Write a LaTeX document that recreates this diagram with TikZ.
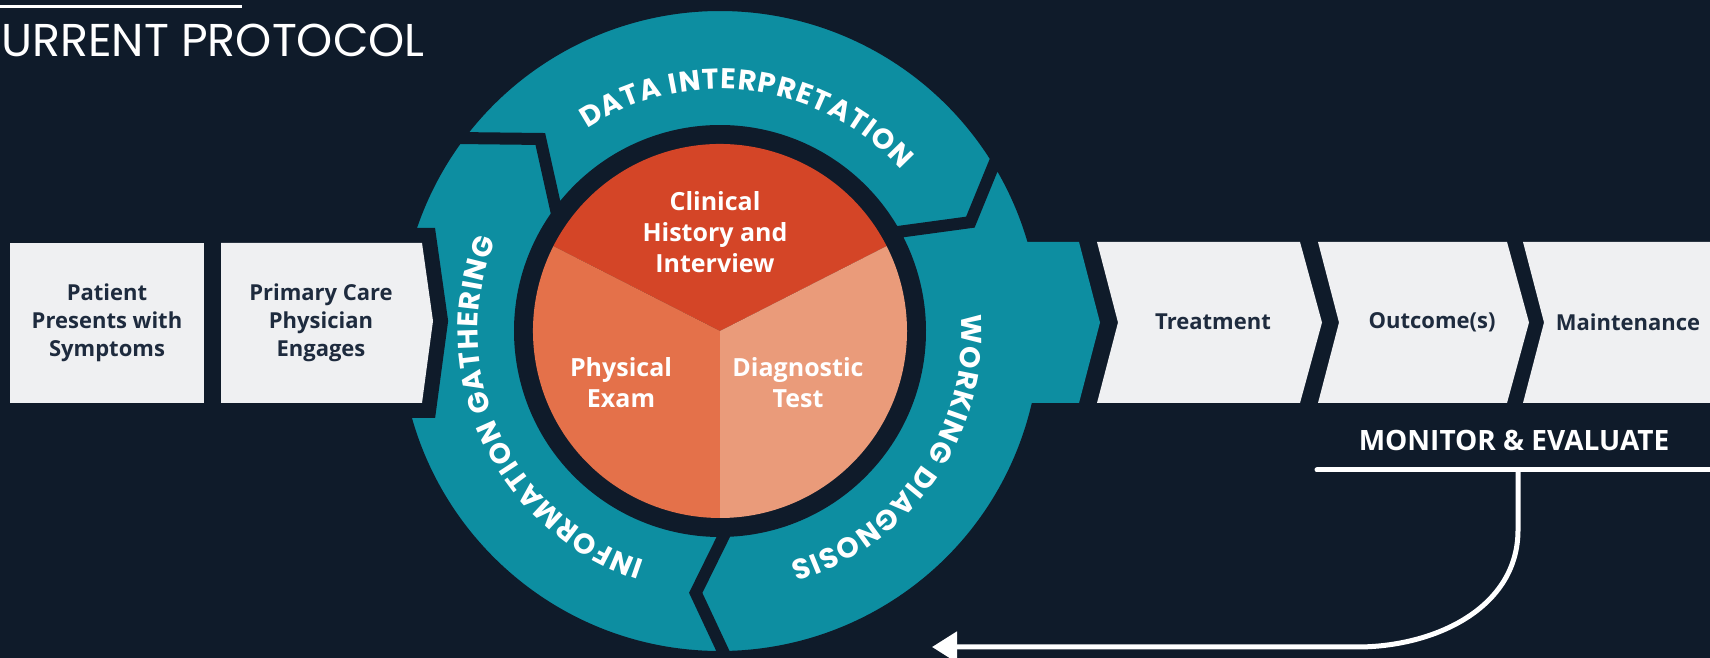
\documentclass[tikz,border=0pt]{standalone}
\usepackage{fontspec}
\setmainfont{Open Sans}
\newfontfamily\titlefont{Poppins}
\newfontfamily\ringfont{Poppins}
\usetikzlibrary{arrows.meta,decorations.text,positioning}
\definecolor{bgblue}{HTML}{0F1B2A}
\definecolor{ringteal}{HTML}{0D8EA1}
\definecolor{boxwhite}{HTML}{EFF0F2}
\definecolor{boxtext}{HTML}{1E2B3E}
\definecolor{histred}{HTML}{D44527}
\definecolor{examorange}{HTML}{E4714A}
\definecolor{testpeach}{HTML}{EA9B7A}

\begin{document}
\begin{tikzpicture}[x=1pt,y=1pt,>={Triangle[length=25pt,width=30pt]},
  stagetext/.style={text=boxtext,font=\bfseries\fontsize{22}{28}\selectfont,align=center},
  pietext/.style={text=white,font=\bfseries\fontsize{25}{31}\selectfont,align=center},
  ringlabel/.style={decorate,decoration={text along path,text align=center,
      text={|\ringfont\bfseries\fontsize{28.5}{28.5}\selectfont\color{white}\kern1.1pt|#1}}},
  cutbox/.style={fill=boxwhite,preaction={draw=bgblue,line width=30pt}}]

  \useasboundingbox (0,0) rectangle (1710,658);
  \fill[bgblue] (0,0) rectangle (1710,658);

  \draw[white,line width=2.5pt] (0,651.5) -- (242,651.5);
  \node[anchor=base west,inner sep=0pt,text=white,font=\titlefont\fontsize{46}{46}\selectfont]
    (title) at (1,601) {URRENT PROTOCOL};

  \begin{scope}[shift={(720,327)}]
    \path[fill=ringteal,draw=bgblue,line width=12pt]
      (143.7:326) arc[start angle=143.7,end angle=32,radius=326] -- (23.5:273) -- (29.5:200)
        arc[start angle=29.5,end angle=144.5,radius=200] -- (133.1:263) -- cycle
      (32:326) arc[start angle=32,end angle=-89,radius=326] -- (-95.3:263) -- (-88.2:200)
        arc[start angle=-88.2,end angle=29.5,radius=200] -- (23.5:273) -- cycle
      (-89:326) arc[start angle=-89,end angle=-216.3,radius=326] -- (133.1:263) -- (144.5:200)
        arc[start angle=144.5,end angle=271.8,radius=200] -- (264.7:263) -- cycle;
    \fill[ringteal] (250,89) -- (359,89) -- (380,8.5) -- (359,-72) -- (250,-72) -- cycle;

    \fill[histred] (0,0) -- (27:187) arc[start angle=27,end angle=153,radius=187] -- cycle;
    \fill[examorange] (0,0) -- (153:187) arc[start angle=153,end angle=270,radius=187] -- cycle;
    \fill[testpeach] (0,0) -- (270:187) arc[start angle=270,end angle=387,radius=187] -- cycle;

    \node[pietext] (history) at (-5,99) {Clinical\\History and\\Interview};
    \node[pietext] (exam) at (-99,-52) {Physical\\Exam};
    \node[pietext] (test) at (78,-52) {Diagnostic\\Test};

    \path[ringlabel={DATA INTERPRETATION}] (142.6:242) arc[start angle=142.6,end angle=22.6,radius=242];
    \path[ringlabel={WORKING DIAGNOSIS}] (25.5:242) arc[start angle=25.5,end angle=-94.5,radius=242];
    \path[ringlabel={INFORMATION GATHERING}] (265:242) arc[start angle=265,end angle=145,radius=242];
  \end{scope}

  \path[cutbox] (221,255) -- (221,415) -- (422,415) -- (433,337) -- (422,255) -- cycle;
  \node[stagetext] (primary) at (321,335) {Primary Care\\Physician\\Engages};
  \node[fill=boxwhite,minimum width=194pt,minimum height=160pt,stagetext]
    (patient) at (107,335) {Patient\\Presents with\\Symptoms};

  \foreach \l/\r/\tx/\name/\txt in {1097/1300/1213/treat/Treatment,
      1318/1507/1432/outcome/Outcome(s),1523/1760/1628/upkeep/Maintenance}{
    \fill[boxwhite] (\l,255) -- (\l+21,335.5) -- (\l,416) -- (\r,416) -- (\r+22,335.5) -- (\r,255) -- cycle;
    \node[stagetext] (\name) at (\tx,336) {\txt};
  }

  \node[text=white,font=\bfseries\fontsize{28}{28}\selectfont] (monitor) at (1514,218) {MONITOR \& EVALUATE};
  \coordinate (monleft) at (1317,188);
  \coordinate (monright) at (1714,188);
  \coordinate (loopstart) at (1518,188);
  \coordinate (loopback) at (932,11);
  \draw[white,line width=5pt,line cap=round] (monleft) -- (monright);
  \draw[->,white,line width=5pt] (loopstart) -- ++(0,-60) to[out=-90,in=0] (1357,11) -- (loopback);

\end{tikzpicture}
\end{document}
